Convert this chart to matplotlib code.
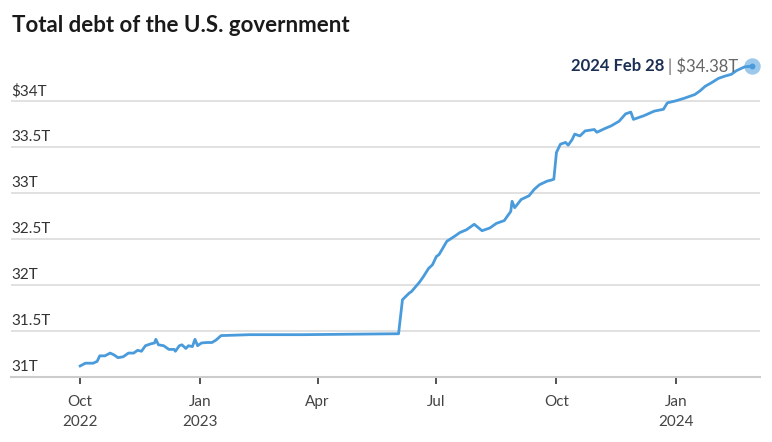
import matplotlib.pyplot as plt
import matplotlib.transforms as mtransforms
import pandas as pd

# dates and debt (trillions USD)
dates = ["2022-10-01", "2022-10-05", "2022-10-11", "2022-10-14", "2022-10-16",
         "2022-10-20", "2022-10-24", "2022-10-27", "2022-10-30", "2022-11-03",
         "2022-11-07", "2022-11-11", "2022-11-14", "2022-11-17", "2022-11-20",
         "2022-11-24", "2022-11-27", "2022-11-28", "2022-11-30", "2022-12-04",
         "2022-12-08", "2022-12-12", "2022-12-13", "2022-12-16", "2022-12-18",
         "2022-12-21", "2022-12-23", "2022-12-26", "2022-12-28", "2022-12-30",
         "2023-01-02", "2023-01-06", "2023-01-10", "2023-01-13", "2023-01-17",
         "2023-02-08", "2023-03-20", "2023-04-25",
         "2023-05-31", "2023-06-02", "2023-06-05", "2023-06-10", "2023-06-12",
         "2023-06-18", "2023-06-21", "2023-06-25", "2023-06-28", "2023-07-01",
         "2023-07-03", "2023-07-09", "2023-07-15", "2023-07-19", "2023-07-24",
         "2023-07-30", "2023-08-05", "2023-08-11", "2023-08-16", "2023-08-22",
         "2023-08-27", "2023-08-28", "2023-08-30", "2023-09-04", "2023-09-10",
         "2023-09-14", "2023-09-18", "2023-09-24", "2023-09-27", "2023-09-29",
         "2023-10-01", "2023-10-04", "2023-10-08", "2023-10-10", "2023-10-13",
         "2023-10-15", "2023-10-19", "2023-10-23", "2023-10-30", "2023-11-01",
         "2023-11-07", "2023-11-12", "2023-11-18", "2023-11-23", "2023-11-27",
         "2023-11-29", "2023-12-07", "2023-12-15", "2023-12-22", "2023-12-25",
         "2023-12-31", "2024-01-07", "2024-01-15", "2024-01-19", "2024-01-23",
         "2024-01-28", "2024-02-02", "2024-02-07", "2024-02-12", "2024-02-16",
         "2024-02-22", "2024-02-28"]
debt = [31.12, 31.15, 31.15, 31.17, 31.23,
        31.23, 31.26, 31.24, 31.21, 31.22,
        31.26, 31.26, 31.29, 31.28, 31.34,
        31.36, 31.37, 31.41, 31.35, 31.34,
        31.30, 31.30, 31.28, 31.34, 31.35,
        31.31, 31.34, 31.33, 31.41, 31.34,
        31.37, 31.375, 31.375, 31.40, 31.45,
        31.46, 31.46, 31.465,
        31.47, 31.47, 31.84, 31.91, 31.93,
        32.03, 32.09, 32.18, 32.22, 32.31,
        32.33, 32.475, 32.53, 32.57, 32.60,
        32.66, 32.59, 32.62, 32.67, 32.70,
        32.80, 32.91, 32.84, 32.93, 32.97,
        33.04, 33.09, 33.13, 33.14, 33.15,
        33.44, 33.53, 33.55, 33.52, 33.58,
        33.64, 33.62, 33.675, 33.69, 33.66,
        33.70, 33.73, 33.78, 33.86, 33.88,
        33.80, 33.84, 33.89, 33.91, 33.98,
        34.00, 34.03, 34.07, 34.11, 34.16,
        34.20, 34.245, 34.27, 34.29, 34.33,
        34.37, 34.38]
ytick_vals = [31, 31.5, 32, 32.5, 33, 33.5, 34]
ytick_labels = ["31T", "31.5T", "32T", "32.5T", "33T", "33.5T", "$34T"]
xtick_dates = ["2022-10-01", "2023-01-01", "2023-04-01", "2023-07-01", "2023-10-01", "2024-01-01"]
xtick_labels = ["Oct\n2022", "Jan\n2023", "Apr", "Jul", "Oct", "Jan\n2024"]

dates = pd.to_datetime(dates)
plt.rcParams['font.family'] = ['Lato', 'DejaVu Sans']

fig = plt.figure(figsize=(7.72, 4.42), dpi=100)
ax = fig.add_axes([11/772, 1 - 377/442, (760-11)/772, (377-55)/442])

ax.plot(dates, debt, color='#4a9bdb', lw=2.0, solid_joinstyle='round', zorder=3)
# punto finale
ax.scatter([dates[-1]], [debt[-1]], s=140, color='#4a9bdb', alpha=0.55, lw=0, zorder=4)
ax.scatter([dates[-1]], [debt[-1]], s=18, color='#4a9bdb', lw=0, zorder=5)

ax.set_xlim(pd.Timestamp("2022-08-09"), pd.Timestamp("2024-03-05"))
ax.set_ylim(31, 34.5)

for s in ['top', 'right', 'left']:
    ax.spines[s].set_visible(False)
ax.spines['bottom'].set_color('#cccccc')
ax.spines['bottom'].set_linewidth(1.5)

for v in ytick_vals[1:]:
    ax.axhline(v, color='#dcdcdc', lw=1.2, zorder=1)
ax.set_yticks([])

trans = mtransforms.blended_transform_factory(ax.transAxes, ax.transData)
shift = mtransforms.ScaledTranslation(0, 2/72, fig.dpi_scale_trans)
for v, lab in zip(ytick_vals, ytick_labels):
    ax.text(0, v, lab, transform=trans + shift, ha='left', va='bottom', fontsize=11,
            color='#333333', zorder=2)

ax.set_xticks(pd.to_datetime(xtick_dates))
ax.set_xticklabels(xtick_labels, fontsize=11, color='#444444', linespacing=1.5)
ax.tick_params(axis='x', length=5, width=1.2, color='#333333', pad=8)

# etichetta finale
ann = ax.annotate("| $34.38T", xy=(dates[-1], debt[-1]), xytext=(-10, 0),
                  textcoords='offset points', ha='right', va='center',
                  fontsize=12, color='#666666')
fig.canvas.draw()
bb = ann.get_window_extent()
ax.annotate("2024 Feb 28 ", xy=(0, 0), xycoords='figure pixels',
            xytext=(bb.x0, (bb.y0 + bb.y1) / 2), textcoords='figure pixels',
            ha='right', va='center', fontsize=12, fontweight='bold', color='#1b2f55')

fig.text(12/772, 1 - 26/442, "Total debt of the U.S. government", fontsize=16,
         fontweight='bold', color='#1a1a1a', va='center', ha='left')

fig.savefig("out.png", dpi=100)
